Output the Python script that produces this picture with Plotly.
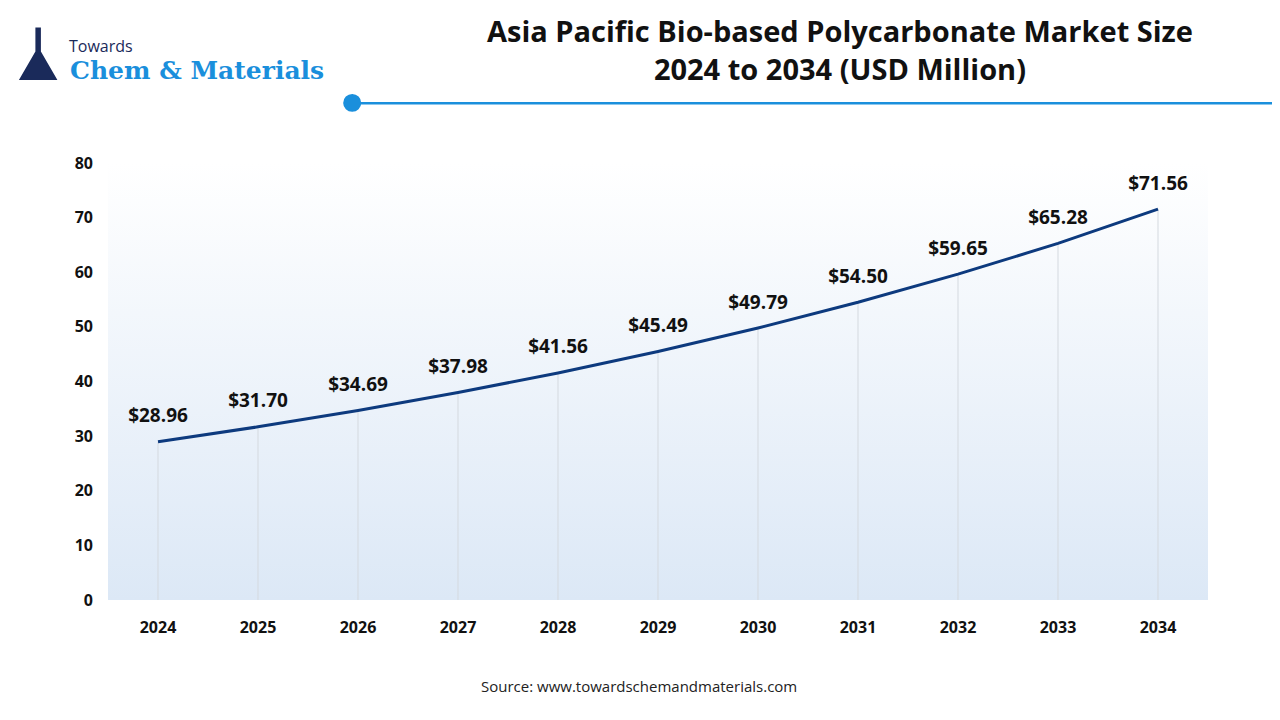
import plotly.graph_objects as go

years = ["2024", "2025", "2026", "2027", "2028", "2029", "2030", "2031", "2032", "2033", "2034"]
market_size = [28.96, 31.70, 34.69, 37.98, 41.56, 45.49, 49.79, 54.50, 59.65, 65.28, 71.56]
y_ticks = [0, 10, 20, 30, 40, 50, 60, 70, 80]

fig = go.Figure()

# gradient background of the plot area
fig.add_trace(go.Scatter(
    x=[-0.5, 10.5, 10.5, -0.5, -0.5], y=[0, 0, 80, 80, 0],
    fill="toself", mode="none", hoverinfo="skip", showlegend=False,
    fillgradient=dict(type="vertical", colorscale=[[0, "#dce8f6"], [1, "#ffffff"]]),
))

# drop lines from each point
gx, gy = [], []
for i, v in enumerate(market_size):
    gx += [i, i, None]
    gy += [0, v, None]
fig.add_trace(go.Scatter(x=gx, y=gy, mode="lines", line=dict(color="#d4d9df", width=1),
                         hoverinfo="skip", showlegend=False))

fig.add_trace(go.Scatter(
    x=list(range(len(years))), y=market_size, mode="lines+markers+text",
    line=dict(color="#0d3a7e", width=3),
    marker=dict(size=22, color="rgba(0,0,0,0)"),
    text=[f"${v:.2f}" for v in market_size], textposition="top center",
    textfont=dict(family="Open Sans", size=19, color="#111111", weight="bold"),
    showlegend=False,
))

fig.update_layout(
    width=1280, height=720, paper_bgcolor="white", plot_bgcolor="white",
    margin=dict(l=100, r=80, t=155, b=128),
    font=dict(family="Open Sans", color="#111111"),
    xaxis=dict(range=[-0.5, 10.5], tickvals=list(range(len(years))), ticktext=years,
               showgrid=False, zeroline=False, showline=False,
               tickfont=dict(size=16, weight="bold"), ticklabelstandoff=16),
    yaxis=dict(range=[0, 80], tickvals=y_ticks, showgrid=False, zeroline=False,
               tickfont=dict(size=16, weight="bold"), ticklabelstandoff=14),
    shapes=[
        dict(type="line", xref="paper", yref="paper", x0=0.222, x1=1.1, y0=1.137, y1=1.137,
             line=dict(color="#1a8fdc", width=2.5)),
        dict(type="circle", xref="paper", yref="paper", x0=0.2138, x1=0.2302,
             y0=1.117, y1=1.158, fillcolor="#1a8fdc", line=dict(width=0)),
        # small flask mark of the logo
        dict(type="path", xref="paper", yref="paper",
             path="M -0.066 1.31 L -0.061 1.31 L -0.061 1.255 L -0.046 1.19 L -0.081 1.19 "
                  "L -0.066 1.255 Z",
             fillcolor="#1a2a5a", line=dict(width=0)),
    ],
    annotations=[
        dict(text="<b>Asia Pacific Bio-based Polycarbonate Market Size<br>2024 to 2034 (USD Million)</b>",
             xref="paper", yref="paper", x=0.665, y=1.259, xanchor="center", yanchor="middle",
             showarrow=False, font=dict(size=29, color="#111111")),
        dict(text="Towards", xref="paper", yref="paper", x=-0.037, y=1.268, xanchor="left",
             yanchor="middle", showarrow=False, font=dict(size=16, color="#1a2a5a")),
        dict(text="Chem & Materials", xref="paper", yref="paper", x=-0.036, y=1.212, xanchor="left",
             yanchor="middle", showarrow=False,
             font=dict(family="DejaVu Serif", size=25, color="#1a8fdc", weight="bold")),
        dict(text="Source: www.towardschemandmaterials.com", xref="paper", yref="paper",
             x=0.483, y=-0.196, yanchor="middle", showarrow=False,
             font=dict(size=15, color="#222222")),
    ],
)

fig.write_html("out.html")
